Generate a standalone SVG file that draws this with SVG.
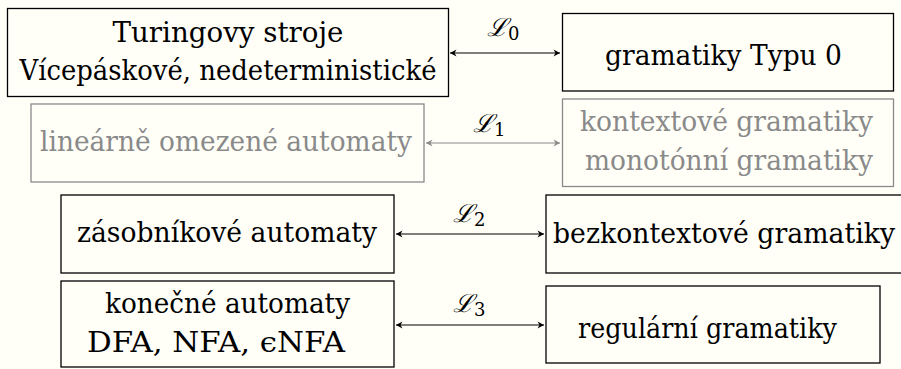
<svg xmlns="http://www.w3.org/2000/svg" width="901" height="369" viewBox="0 0 901 369">
<defs>
<style>
.bg{fill:#fffff8}
.box{fill:none;stroke:#000;stroke-width:1.3}
.gbox{fill:none;stroke:#8a8a8a;stroke-width:1.3}
.t{font-family:'DejaVu Serif','Liberation Serif',serif;font-size:27px;fill:#000;text-anchor:middle}
.g{fill:#8a8a8a}
.lab{font-family:'DejaVu Serif',serif;font-size:25px;font-style:italic;fill:#000}
.sub{font-size:18px;font-style:normal}
.ln{stroke:#000;stroke-width:1.2;fill:none;marker-start:url(#ah);marker-end:url(#ah)}
.gln{stroke:#8a8a8a;stroke-width:1.2;fill:none;marker-start:url(#ahg);marker-end:url(#ahg)}
</style>
<marker id="ah" viewBox="-7 -4 8 8" refX="0" refY="0" markerWidth="8" markerHeight="8" markerUnits="userSpaceOnUse" orient="auto-start-reverse">
<path d="M-6.5,-3.5 L0,0 L-6.5,3.5 L-4.5,0 Z" fill="#000"/>
</marker>
<marker id="ahg" viewBox="-7 -4 8 8" refX="0" refY="0" markerWidth="8" markerHeight="8" markerUnits="userSpaceOnUse" orient="auto-start-reverse">
<path d="M-6.5,-3.5 L0,0 L-6.5,3.5 L-4.5,0 Z" fill="#8a8a8a"/>
</marker>
</defs>
<rect class="bg" x="0" y="0" width="901" height="369"/>

<g id="connectors">
<line class="ln" x1="450" y1="53" x2="560" y2="53"/>
<line class="gln" x1="426" y1="143" x2="560" y2="143"/>
<line class="ln" x1="396" y1="234" x2="544" y2="234"/>
<line class="ln" x1="396" y1="325" x2="544" y2="325"/>
<text class="lab" x="487" y="36">ℒ<tspan class="sub" dy="4">0</tspan></text>
<text class="lab g" x="473" y="132">ℒ<tspan class="sub" dy="4">1</tspan></text>
<text class="lab" x="453" y="222">ℒ<tspan class="sub" dy="4">2</tspan></text>
<text class="lab" x="453" y="312">ℒ<tspan class="sub" dy="4">3</tspan></text>
</g>

<g id="turing">
<rect class="box" x="7.5" y="8.5" width="441" height="88"/>
<text class="t" x="228" y="42" textLength="231" lengthAdjust="spacingAndGlyphs">Turingovy stroje</text>
<text class="t" x="228" y="80" textLength="417" lengthAdjust="spacingAndGlyphs">Vícepáskové, nedeterministické</text>
</g>

<g id="typ0">
<rect class="box" x="562.5" y="13.5" width="331" height="77.5"/>
<text class="t" x="723.5" y="65" textLength="237" lengthAdjust="spacingAndGlyphs">gramatiky Typu 0</text>
</g>

<g id="lba">
<rect class="gbox" x="31" y="104" width="393" height="78"/>
<text class="t g" x="226" y="151" textLength="372" lengthAdjust="spacingAndGlyphs">lineárně omezené automaty</text>
</g>

<g id="kontext">
<rect class="gbox" x="562.5" y="99" width="331" height="87.5"/>
<text class="t g" x="726.5" y="131" textLength="293" lengthAdjust="spacingAndGlyphs">kontextové gramatiky</text>
<text class="t g" x="729" y="170" textLength="288" lengthAdjust="spacingAndGlyphs">monotónní gramatiky</text>
</g>

<g id="zasobnik">
<rect class="box" x="61" y="195" width="333" height="78"/>
<text class="t" x="227" y="242" textLength="300" lengthAdjust="spacingAndGlyphs">zásobníkové automaty</text>
</g>

<g id="bezkontext">
<rect class="box" x="546" y="195" width="360" height="78"/>
<text class="t" x="724" y="243" textLength="342" lengthAdjust="spacingAndGlyphs">bezkontextové gramatiky</text>
</g>

<g id="konecne">
<rect class="box" x="61" y="281" width="333" height="86"/>
<text class="t" x="227.5" y="313" textLength="245" lengthAdjust="spacingAndGlyphs">konečné automaty</text>
<text class="t" x="216" y="352" textLength="258" lengthAdjust="spacingAndGlyphs">DFA, NFA, ϵNFA</text>
</g>

<g id="regularni">
<rect class="box" x="546" y="286" width="334" height="77"/>
<text class="t" x="707.5" y="338" textLength="259" lengthAdjust="spacingAndGlyphs">regulární gramatiky</text>
</g>
</svg>
